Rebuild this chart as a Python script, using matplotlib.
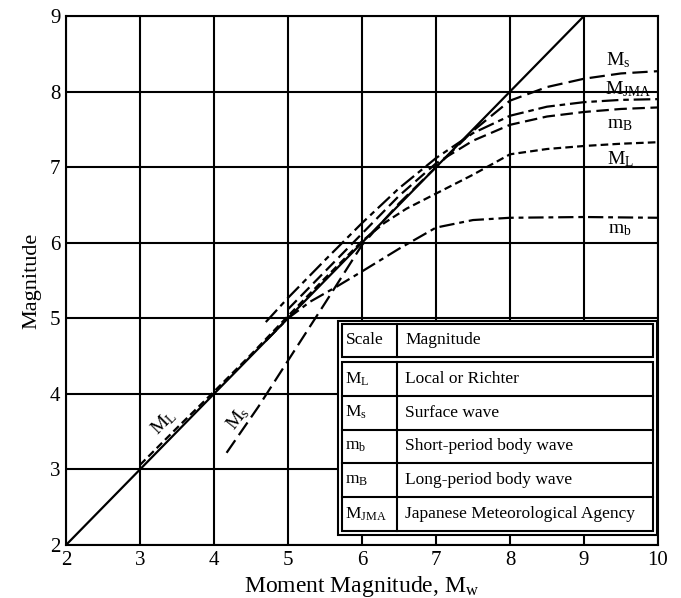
import matplotlib
matplotlib.use("Agg")
import matplotlib.pyplot as plt
from matplotlib.patches import Rectangle
from matplotlib.lines import Line2D

plt.rcParams['font.family'] = ['Liberation Serif', 'DejaVu Serif']
plt.rcParams['mathtext.fontset'] = 'custom'
plt.rcParams['mathtext.rm'] = 'Liberation Serif'
plt.rcParams['mathtext.it'] = 'Liberation Serif:italic'
plt.rcParams['lines.scale_dashes'] = False

# ---- data ----
ref_x = [2, 9]
ref_y = [2, 9]

ML_x = [3.0, 3.5, 4.0, 4.5, 5.0, 5.5, 6.0, 6.3, 6.6, 7.0, 7.5, 8.0, 8.5, 9.0, 9.5, 10.0]
ML_y = [3.06, 3.55, 4.03, 4.52, 5.03, 5.53, 6.02, 6.26, 6.45, 6.65, 6.90, 7.17, 7.24, 7.28, 7.31, 7.33]

Ms_x = [4.17, 4.6, 5.0, 5.5, 6.0, 6.5, 7.0, 7.5, 8.0, 8.5, 9.0, 9.5, 10.0]
Ms_y = [3.22, 3.83, 4.44, 5.20, 5.97, 6.52, 7.00, 7.48, 7.88, 8.06, 8.17, 8.24, 8.27]

mb_x = [4.7, 5.0, 5.3, 5.66, 6.0, 6.5, 7.0, 7.5, 8.0, 9.0, 10.0]
mb_y = [4.7, 5.0, 5.22, 5.42, 5.62, 5.92, 6.20, 6.30, 6.33, 6.34, 6.33]

mB_x = [5.0, 5.5, 6.0, 6.5, 7.0, 7.5, 8.0, 8.5, 9.0, 9.5, 10.0]
mB_y = [5.12, 5.62, 6.12, 6.62, 7.05, 7.35, 7.56, 7.67, 7.73, 7.77, 7.79]

MJMA_x = [4.7, 5.0, 5.5, 6.0, 6.5, 7.0, 7.5, 8.0, 8.5, 9.0, 9.5, 10.0]
MJMA_y = [4.95, 5.27, 5.77, 6.26, 6.72, 7.12, 7.45, 7.68, 7.80, 7.86, 7.89, 7.90]

xticks = [2, 3, 4, 5, 6, 7, 8, 9, 10]
yticks = [2, 3, 4, 5, 6, 7, 8, 9]

table_header = ["Scale", "Magnitude"]
table_scales = [r"$\mathrm{M_L}$", r"$\mathrm{M_s}$", r"$\mathrm{m_b}$", r"$\mathrm{m_B}$", r"$\mathrm{M_{JMA}}$"]
table_names = ["Local or Richter", "Surface wave", "Short-period body wave",
               "Long-period body wave", "Japanese Meteorological Agency"]

# ---- figure ----
fig = plt.figure(figsize=(6.81, 5.98), dpi=100)
ax = fig.add_axes([66/681, 1-545/598, 592/681, 529/598])
ax.set_xlim(2, 10)
ax.set_ylim(2, 9)
ax.set_xticks(xticks)
ax.set_yticks(yticks)
ax.tick_params(length=0, labelsize=15, pad=4)
ax.grid(True, color='black', lw=1.5, zorder=0)
ax.set_axisbelow(True)
for s in ax.spines.values():
    s.set_linewidth(1.5)
    s.set_color('black')

lw = 1.6
ax.plot(ref_x, ref_y, color='black', lw=lw, zorder=3)
ax.plot(ML_x, ML_y, color='black', lw=lw, dashes=(5.5, 3), zorder=3)
ax.plot(Ms_x, Ms_y, color='black', lw=lw, dashes=(11, 4.5), zorder=3)
ax.plot(mb_x, mb_y, color='black', lw=lw, dashes=(11, 3.5, 3.5, 3.5), zorder=3)
ax.plot(mB_x, mB_y, color='black', lw=lw, dashes=(9, 4), zorder=3)
ax.plot(MJMA_x, MJMA_y, color='black', lw=lw, dashes=(12, 3.5, 4, 3.5), zorder=3)

lab_kw = dict(fontsize=14, color='black', ha='center', va='center', zorder=4)
ax.text(9.46, 8.42, r"$\mathrm{M_s}$", **lab_kw)
ax.text(9.60, 8.03, r"$\mathrm{M_{JMA}}$", **lab_kw)
ax.text(9.49, 7.57, r"$\mathrm{m_B}$", **lab_kw)
ax.text(9.49, 7.11, r"$\mathrm{M_L}$", **lab_kw)
ax.text(9.49, 6.17, r"$\mathrm{m_b}$", **lab_kw)
ax.text(3.32, 3.62, r"$\mathrm{M_L}$", rotation=45, **lab_kw)
ax.text(4.32, 3.68, r"$\mathrm{M_s}$", rotation=52, **lab_kw)

ax.set_xlabel(r"Moment Magnitude, $\mathrm{M_w}$", fontsize=17, labelpad=3)
ax.set_ylabel("Magnitude", fontsize=16, labelpad=6)

# ---- table ----
T = ax.transAxes
outer = Rectangle((0.4595, 0.0189), 0.9985 - 0.4595, 0.4234 - 0.0189, transform=T,
                  facecolor='white', edgecolor='black', lw=1.5, zorder=5)
ax.add_patch(outer)
hdr = Rectangle((0.466, 0.3554), 0.992 - 0.466, 0.4178 - 0.3554, transform=T,
                facecolor='white', edgecolor='black', lw=1.5, zorder=6)
ax.add_patch(hdr)
body_top, body_bot = 0.346, 0.0265
body = Rectangle((0.466, body_bot), 0.992 - 0.466, body_top - body_bot, transform=T,
                 facecolor='white', edgecolor='black', lw=1.5, zorder=6)
ax.add_patch(body)
col_x = 0.559
ax.add_line(Line2D([col_x, col_x], [0.3554, 0.4178], transform=T, color='black', lw=1.5, zorder=7))
ax.add_line(Line2D([col_x, col_x], [body_bot, body_top], transform=T, color='black', lw=1.5, zorder=7))
n = len(table_names)
rh = (body_top - body_bot) / n
for i in range(1, n):
    yy = body_top - i * rh
    ax.add_line(Line2D([0.466, 0.992], [yy, yy], transform=T, color='black', lw=1.5, zorder=7))

tk = dict(transform=T, fontsize=12.5, va='center', ha='left', zorder=8)
ax.text(0.472, (0.3554 + 0.4178) / 2, table_header[0], **tk)
ax.text(0.573, (0.3554 + 0.4178) / 2, table_header[1], **tk)
for i, (s, nm) in enumerate(zip(table_scales, table_names)):
    yc = body_top - (i + 0.5) * rh
    ax.text(0.472, yc, s, **tk)
    ax.text(0.573, yc, nm, **tk)

fig.savefig("out.png", dpi=100)
